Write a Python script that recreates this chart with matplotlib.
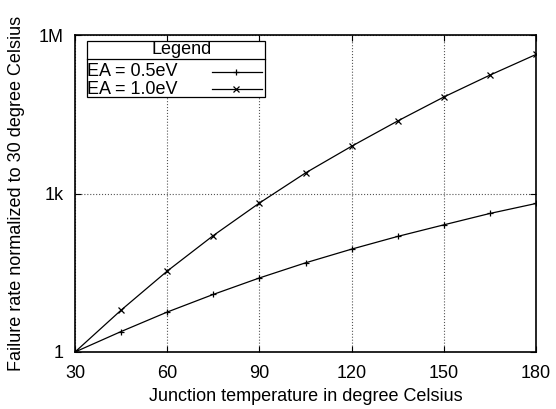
import numpy as np
import matplotlib.pyplot as plt
from matplotlib.lines import Line2D
from matplotlib.patches import Rectangle

plt.rcParams['font.family'] = ['Liberation Sans', 'DejaVu Sans']
plt.rcParams['font.size'] = 13

# junction temperature (degree Celsius)
temp = [30, 45, 60, 75, 90, 105, 120, 135, 150, 165, 180]
# failure rate normalized to 30 C
ea05 = [1.0, 2.44, 5.7, 12.3, 25.2, 48.7, 88.5, 154, 255, 419, 647]
ea10 = [1.0, 6.2, 34, 160, 660, 2450, 7840, 23600, 67000, 174000, 428000]

xticks = [30, 60, 90, 120, 150, 180]
yticks = [1, 1e3, 1e6]
yticklabels = ['1', '1k', '1M']

fig = plt.figure(figsize=(5.56, 4.09), dpi=100)
W, H = 556, 409
ax = fig.add_axes([75 / W, 1 - 352 / H, (536 - 75) / W, (352 - 35) / H])

ax.plot(temp, ea05, color='black', lw=0.9, marker='+', ms=5, mew=0.9)
ax.plot(temp, ea10, color='black', lw=0.9, marker='x', ms=4, mew=0.9)

ax.set_yscale('log')
ax.set_xlim(30, 180)
ax.set_ylim(1, 1e6)
ax.set_xticks(xticks)
ax.set_yticks(yticks)
ax.set_yticklabels(yticklabels)
ax.minorticks_off()
ax.tick_params(direction='in', length=4, width=0.8, top=True, right=True)
ax.tick_params(axis='x', pad=9)
ax.tick_params(axis='y', pad=8)
ax.grid(True, ls=':', lw=0.8, color='#555555')
for s in ax.spines.values():
    s.set_linewidth(1.2)

ax.set_xlabel('Junction temperature in degree Celsius', labelpad=5)
ax.set_ylabel('Failure rate normalized to 30 degree Celsius', labelpad=10)

# gnuplot-style legend box
def px(x, y):
    return x / W, 1 - y / H

lx0, ly0, lx1, ly1 = 87, 41, 265, 97
fig.patches.append(Rectangle(px(lx0, ly1), (lx1 - lx0) / W, (ly1 - ly0) / H,
                             transform=fig.transFigure, facecolor='white',
                             edgecolor='black', lw=0.9, zorder=5))
fig.lines.append(Line2D([lx0 / W, lx1 / W], [1 - 59 / H] * 2,
                        transform=fig.transFigure, color='black', lw=0.9, zorder=6))
fig.text(*px(182, 50), 'Legend', ha='center', va='center', zorder=7)
labels = ['EA = 0.5eV', 'EA = 1.0eV']
markers = ['+', 'x']
for i, (lab, m) in enumerate(zip(labels, markers)):
    yy = 72 + i * 17
    fig.text(*px(87, yy), lab, ha='left', va='center', zorder=7)
    fig.lines.append(Line2D([212 / W, 262 / W], [1 - yy / H] * 2,
                            transform=fig.transFigure, color='black', lw=0.9, zorder=7))
    fig.lines.append(Line2D([236 / W], [1 - yy / H], transform=fig.transFigure,
                            marker=m, ms=4 if m == 'x' else 5, mew=0.9,
                            color='black', ls='none', zorder=7))

fig.savefig('out.png', dpi=100)
